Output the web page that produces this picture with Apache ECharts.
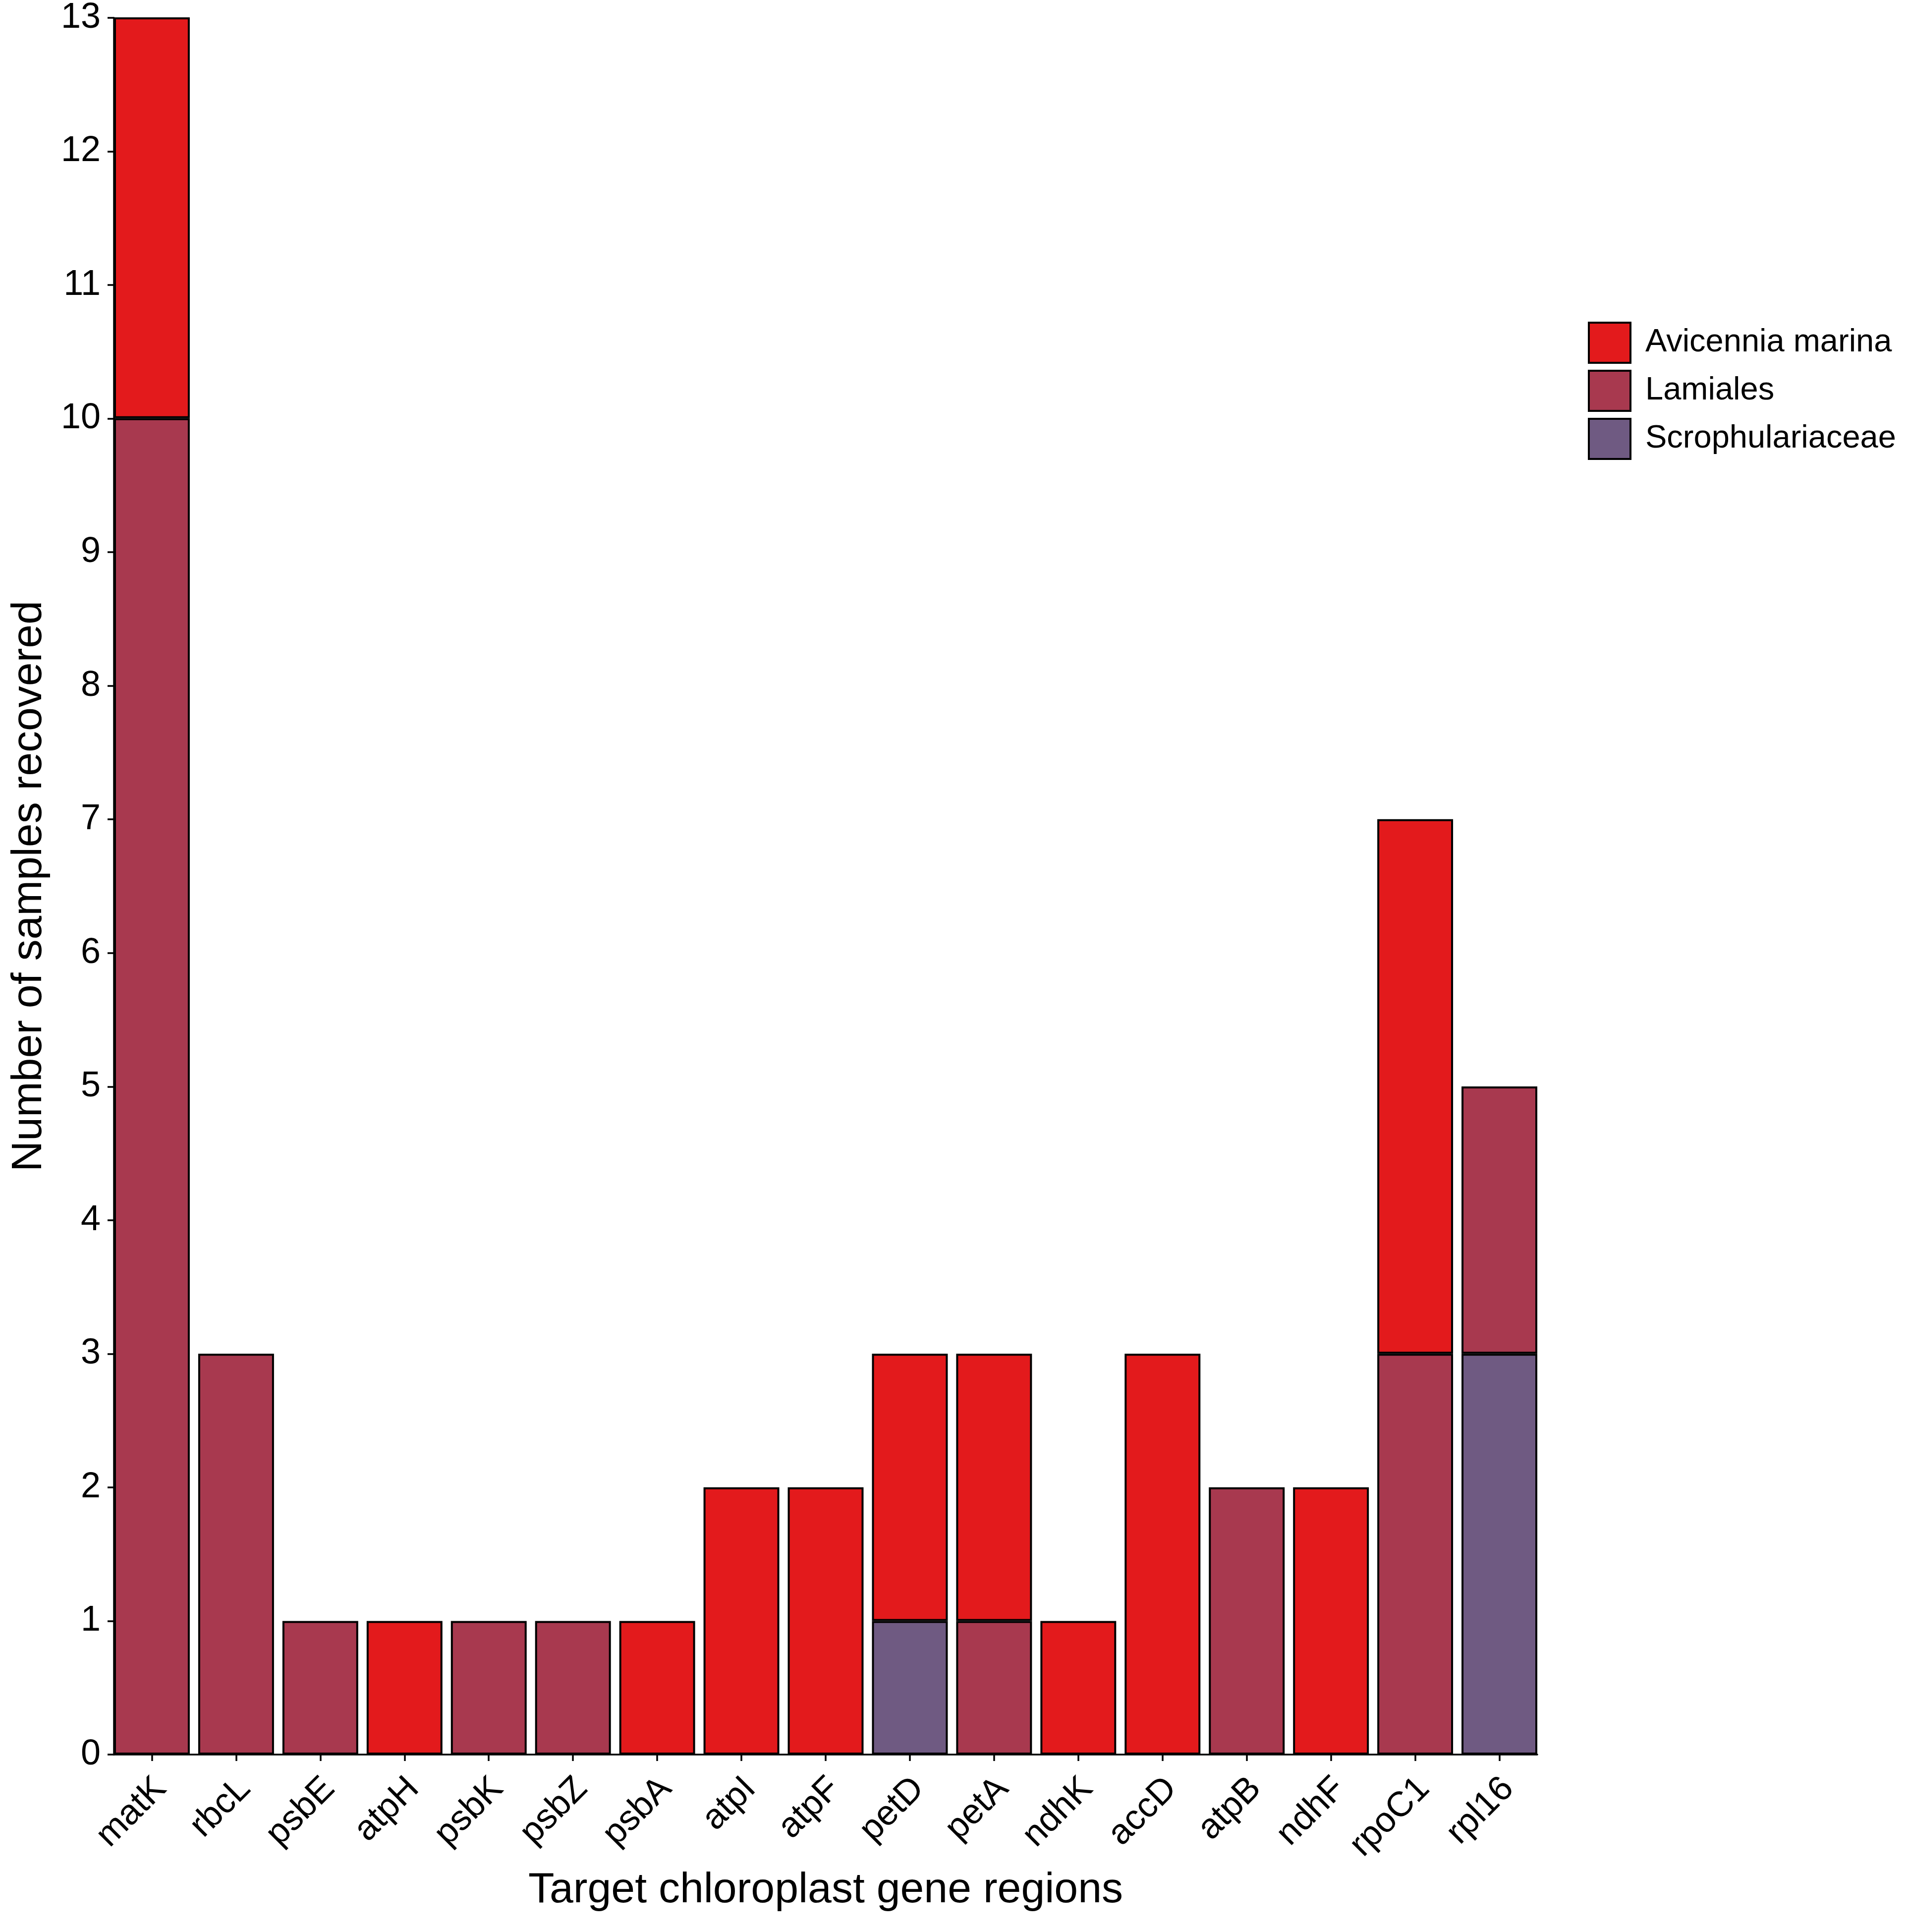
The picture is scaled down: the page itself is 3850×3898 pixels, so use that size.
<!DOCTYPE html>
<html>
<head>
<meta charset="utf-8">
<script src="https://cdn.jsdelivr.net/npm/echarts@6/dist/echarts.min.js"></script>
<style>
  html, body { margin: 0; padding: 0; background: #fff; }
  #chart { width: 3850px; height: 3898px; }
</style>
</head>
<body>
<div id="chart"></div>
<script>
// gene regions on the x axis
const categories = ['matK', 'rbcL', 'psbE', 'atpH', 'psbK', 'psbZ', 'psbA', 'atpI', 'atpF',
  'petD', 'petA', 'ndhK', 'accD', 'atpB', 'ndhF', 'rpoC1', 'rpl16'];
// samples recovered per taxon (stacked bottom -> top: Scrophulariaceae, Lamiales, Avicennia marina)
const avicenniaMarina  = [3, 0, 0, 1, 0, 0, 1, 2, 2, 2, 2, 1, 3, 0, 2, 4, 0];
const lamiales         = [10, 3, 1, 0, 1, 1, 0, 0, 0, 0, 1, 0, 0, 2, 0, 3, 2];
const scrophulariaceae = [0, 0, 0, 0, 0, 0, 0, 0, 0, 1, 0, 0, 0, 0, 0, 0, 3];
const legendNames = ['Avicennia marina', 'Lamiales', 'Scrophulariaceae'];

const font = 'Liberation Sans, Arial, Helvetica, sans-serif';
const black = '#000';
// zero counts are left out so no empty outlined segment gets drawn
const clean = arr => arr.map(v => (v === 0 ? '-' : v));

const chart = echarts.init(document.getElementById('chart'));

function barSeries(name, data, color) {
  return {
    name: name,
    type: 'bar',
    stack: 'total',
    xAxisIndex: 1,
    yAxisIndex: 1,
    barCategoryGap: '10%',
    data: clean(data),
    itemStyle: { color: color, borderColor: black, borderWidth: 4 }
  };
}

chart.setOption({
  backgroundColor: '#fff',
  animation: false,
  textStyle: { fontFamily: font },
  // grid 0: visible axis lines, grid 1: bars + ticks (half a gap wider each side),
  // grid 2: rotated gene labels, nudged right like ggplot's hjust = 1
  grid: [
    { left: 230, right: 748, top: 35, bottom: 358 },
    { left: 221.5, right: 739.5, top: 35, bottom: 358 },
    { left: 239.5, right: 721.5, top: 35, bottom: 358 }
  ],
  legend: {
    orient: 'vertical',
    left: 3199,
    top: 644,
    itemWidth: 84,
    itemHeight: 81,
    itemGap: 12,
    icon: 'rect',
    selectedMode: false,
    data: legendNames,
    itemStyle: { borderColor: black, borderWidth: 4 },
    textStyle: { fontSize: 65, color: black, fontFamily: font, padding: [0, 0, 0, 25] }
  },
  xAxis: [
    {
      gridIndex: 0,
      type: 'value',
      min: 0,
      max: 1,
      name: 'Target chloroplast gene regions',
      nameLocation: 'middle',
      nameGap: 231,
      nameTextStyle: { fontSize: 86, color: black, fontFamily: font },
      axisLine: { show: true, lineStyle: { color: black, width: 3.5 } },
      axisTick: { show: false },
      axisLabel: { show: false },
      splitLine: { show: false }
    },
    {
      gridIndex: 1,
      type: 'category',
      data: categories,
      axisLine: { show: false },
      axisTick: { show: true, alignWithLabel: true, length: 13, lineStyle: { color: black, width: 3.5 } },
      axisLabel: { show: false },
      splitLine: { show: false }
    },
    {
      gridIndex: 2,
      type: 'category',
      data: categories,
      axisLine: { show: false },
      axisTick: { show: false },
      axisLabel: { interval: 0, rotate: 45, margin: 58, fontSize: 71, color: black, fontFamily: font },
      splitLine: { show: false }
    }
  ],
  yAxis: [
    {
      gridIndex: 0,
      type: 'value',
      min: 0,
      max: 13,
      interval: 1,
      name: 'Number of samples recovered',
      nameLocation: 'middle',
      nameGap: 128,
      nameTextStyle: { fontSize: 86, color: black, fontFamily: font },
      axisLine: { show: true, lineStyle: { color: black, width: 3.5 } },
      axisTick: { show: true, length: 13, lineStyle: { color: black, width: 3.5 } },
      axisLabel: { margin: 27, fontSize: 72, color: black, fontFamily: font },
      splitLine: { show: false }
    },
    { gridIndex: 1, type: 'value', min: 0, max: 13, show: false },
    { gridIndex: 2, type: 'value', min: 0, max: 13, show: false }
  ],
  series: [
    barSeries('Scrophulariaceae', scrophulariaceae, '#6F5A82'),
    barSeries('Lamiales', lamiales, '#A8394F'),
    barSeries('Avicennia marina', avicenniaMarina, '#E31A1C')
  ]
});
</script>
</body>
</html>
